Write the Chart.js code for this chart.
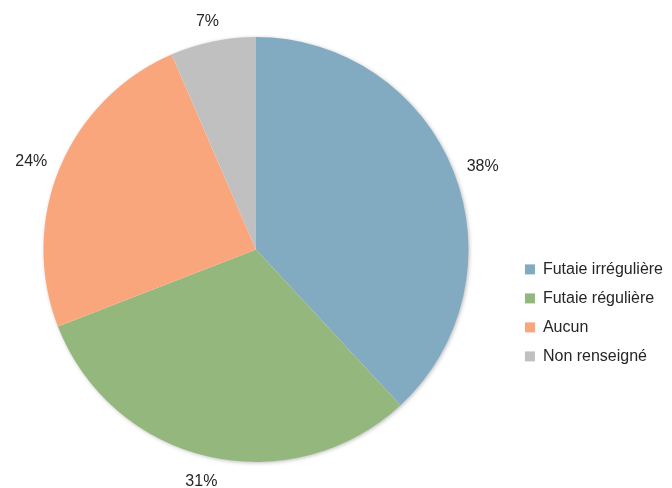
<!DOCTYPE html>
<html>
<head>
<meta charset="utf-8">
<script src="https://cdn.jsdelivr.net/npm/chart.js@4"></script>
<style>
  html, body { margin: 0; padding: 0; background: #fff; }
  #wrap { width: 672px; height: 488px; }
</style>
</head>
<body>
<div id="wrap"><canvas id="pieChart"></canvas></div>
<script>
const categories = ['Futaie irrégulière', 'Futaie régulière', 'Aucun', 'Non renseigné'];
const shares = [38.1, 31.0, 24.4, 6.5];
const sliceColors = ['#82aac0', '#94b77d', '#f9a67c', '#c0c0c0'];

// percent labels just outside each slice
const outsideLabels = {
    id: 'outsideLabels',
    afterDatasetsDraw(chart) {
        const ctx = chart.ctx;
        const arcs = chart.getDatasetMeta(0).data;
        const total = shares.reduce((a, b) => a + b, 0);
        ctx.save();
        ctx.font = '16px "Liberation Sans", Arial, sans-serif';
        ctx.fillStyle = '#262626';
        ctx.textAlign = 'center';
        ctx.textBaseline = 'middle';
        arcs.forEach((arc, i) => {
            const mid = (arc.startAngle + arc.endAngle) / 2;
            const txt = Math.round(shares[i] / total * 100) + '%';
            const w = ctx.measureText(txt).width;
            const h = 16;
            const r = arc.outerRadius + 15;
            const x = arc.x + Math.cos(mid) * r + Math.cos(mid) * w / 2;
            const y = arc.y + Math.sin(mid) * r + Math.sin(mid) * h / 2 + 3;
            ctx.fillText(txt, x, y);
        });
        ctx.restore();
    }
};

// soft shadow only around the outer edge of the pie
const softShadow = {
    id: 'softShadow',
    beforeDatasetsDraw(chart) {
        const arc = chart.getDatasetMeta(0).data[0];
        if (!arc) return;
        const ctx = chart.ctx;
        ctx.save();
        ctx.shadowColor = 'rgba(0,0,0,0.3)';
        ctx.shadowBlur = 4;
        ctx.shadowOffsetX = 1;
        ctx.shadowOffsetY = 1;
        ctx.fillStyle = '#ffffff';
        ctx.beginPath();
        ctx.arc(arc.x, arc.y, arc.outerRadius - 0.5, 0, Math.PI * 2);
        ctx.fill();
        ctx.restore();
    }
};

new Chart(document.getElementById('pieChart'), {
    type: 'pie',
    data: {
        labels: categories,
        datasets: [{
            data: shares,
            backgroundColor: sliceColors,
            borderWidth: 0
        }]
    },
    options: {
        responsive: true,
        maintainAspectRatio: false,
        animation: false,
        layout: { padding: { top: 37, bottom: 26, left: -1, right: -1 } },
        plugins: {
            tooltip: { enabled: false },
            legend: {
                position: 'right',
                align: 'start',
                title: { display: true, text: ' ', padding: { top: 0, bottom: 197 } },
                labels: {
                    boxWidth: 10,
                    boxHeight: 10,
                    padding: 13,
                    color: '#262626',
                    font: { family: '"Liberation Sans", Arial, sans-serif', size: 16 }
                }
            }
        }
    },
    plugins: [softShadow, outsideLabels]
});
</script>
</body>
</html>
